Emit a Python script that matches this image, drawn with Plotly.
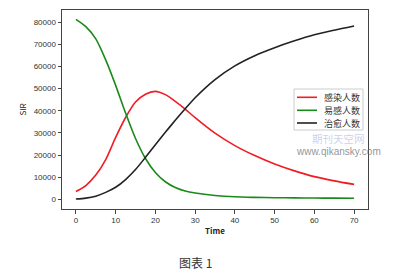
import plotly.graph_objects as go

time = [0, 2.5, 5, 7.5, 10, 12.5, 15, 17.5, 20, 22.5, 25, 27.5, 30, 35, 40, 45, 50, 55, 60, 65, 70]
infected = [3600, 6300, 11000, 18000, 28000, 37000, 44000, 47500, 48800, 47300, 44300, 40800, 36900, 29900, 24300, 19800, 16000, 12900, 10300, 8400, 6800]
susceptible = [81300, 78000, 72500, 63000, 51500, 39000, 27500, 18500, 12200, 8000, 5400, 3800, 2900, 1800, 1200, 950, 800, 700, 650, 600, 550]
recovered = [200, 600, 1500, 3200, 5500, 9000, 13500, 19000, 24700, 30300, 35700, 40900, 45900, 54100, 60300, 64900, 68500, 71600, 74300, 76400, 78300]

names = ["感染人数", "易感人数", "治愈人数"]
colors = ["#f01c24", "#1a8a1a", "#222222"]
series = [infected, susceptible, recovered]

x_ticks = [0, 10, 20, 30, 40, 50, 60, 70]
y_ticks = [0, 10000, 20000, 30000, 40000, 50000, 60000, 70000, 80000]

# plot-area geometry (pixels) used to place the hand-drawn legend & notes
L, R, T, B = 62, 368, 10, 209
def px(x): return (x - L) / (R - L)
def py(y): return (B - y) / (B - T)

fig = go.Figure()
for name, col, vals in zip(names, colors, series):
    fig.add_trace(go.Scatter(x=time, y=vals, mode="lines", name=name, showlegend=False,
                             line=dict(color=col, width=1.6, shape="spline", smoothing=0.8)))

tickfont = dict(family="Liberation Sans, Arial", size=8, color="#333")
fig.update_layout(
    width=403, height=273,
    margin=dict(l=L, r=403 - R, t=T, b=273 - B),
    paper_bgcolor="white", plot_bgcolor="white",
    showlegend=False,
    xaxis=dict(range=[-3.5, 73.5], tickvals=x_ticks, ticks="outside", ticklen=3.5, tickcolor="#444",
               showgrid=False, zeroline=False, showline=True, linecolor="#444", linewidth=1, mirror=True,
               tickfont=tickfont,
               title=dict(text="<b>Time</b>", font=dict(family="Noto Sans CJK SC", size=8, color="#222"), standoff=4)),
    yaxis=dict(range=[-4300, 85500], tickvals=y_ticks, tickformat="d", ticks="outside", ticklen=3.5, tickcolor="#444",
               showgrid=False, zeroline=False, showline=True, linecolor="#444", linewidth=1, mirror=True,
               tickfont=tickfont,
               title=dict(text="SIR", font=dict(family="Noto Sans CJK SC", size=8, color="#222"), standoff=5)),
)

# legend box (drawn by hand to match the compact matplotlib legend)
fig.add_shape(type="rect", xref="paper", yref="paper", x0=px(294), x1=px(363), y0=py(130), y1=py(89),
              line=dict(color="#cccccc", width=1), fillcolor="rgba(255,255,255,0.85)", layer="above")
rows = [97.3, 110.3, 123.0]
for name, col, ry in zip(names, colors, rows):
    fig.add_shape(type="line", xref="paper", yref="paper", x0=px(297), x1=px(317), y0=py(ry), y1=py(ry),
                  line=dict(color=col, width=1.6), layer="above")
    fig.add_annotation(text=name, xref="paper", yref="paper", x=px(322), y=py(ry), showarrow=False,
                       xanchor="left", yanchor="middle",
                       font=dict(family="Noto Sans CJK SC", size=9, color="#333"))

fig.add_annotation(text="图表 1", xref="paper", yref="paper", x=px(195), y=py(262),
                   showarrow=False, font=dict(family="Noto Sans CJK SC", size=12, color="#333"),
                   xanchor="center", yanchor="middle")
fig.add_annotation(text="期刊天空网", xref="paper", yref="paper", x=px(338), y=py(138.5),
                   showarrow=False, font=dict(family="Noto Sans CJK SC", size=10.5, color="rgba(140,150,215,0.45)"),
                   xanchor="center", yanchor="middle")
fig.add_annotation(text="www.qikansky.com", xref="paper", yref="paper", x=px(338), y=py(151),
                   showarrow=False, font=dict(family="Liberation Sans, Arial", size=10, color="rgba(110,110,110,0.75)"),
                   xanchor="center", yanchor="middle")

fig.write_html("out.html")
